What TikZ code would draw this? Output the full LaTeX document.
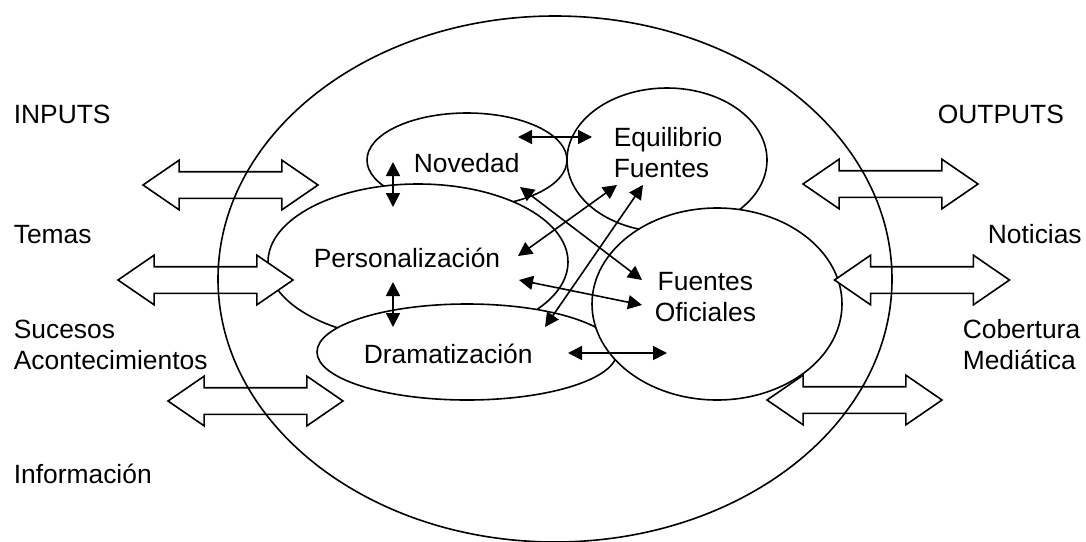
\documentclass[tikz,border=0pt]{standalone}
\usepackage{fontspec}
\setmainfont{Liberation Sans}
\usetikzlibrary{shapes.geometric,shapes.arrows,arrows.meta}

\begin{document}
\begin{tikzpicture}[x=0.5pt,y=-0.5pt, line width=0.8pt,
    font=\fontsize{13.2}{15.3}\selectfont,
    circulo/.style={ellipse, draw, fill=white, inner sep=0pt},
    flecha/.style={double arrow, draw, fill=white, inner sep=0pt,
      text height=12.5pt, text depth=0pt, minimum height=87.5pt,
      double arrow head extend=5.75pt, double arrow tip angle=69},
    rel/.style={{Triangle[length=7pt,width=7pt]}-{Triangle[length=7pt,width=7pt]}},
    texto/.style={inner sep=0pt, anchor=base west, align=left}]

    \useasboundingbox (0,0) rectangle (1086,541);

    % Define ellipses
    \node[circulo, minimum width=100pt, minimum height=47pt] (nov) at (467,160) {};
    \node[circulo, minimum width=100pt, minimum height=72pt] (equ) at (667,160) {};
    \node[circulo, minimum width=150pt, minimum height=78pt] (per) at (418,262) {};
    \node[circulo, minimum width=150pt, minimum height=48pt] (dra) at (467,352) {};
    \node[circulo, minimum width=125pt, minimum height=96pt] (fue) at (717,304) {};

    % Texts
    \node[texto] (novt) at (413,172) {Novedad};
    \node[texto] (equt) at (613,177) {Equilibrio\\Fuentes};
    \node[texto] (pert) at (313,267) {Personalización};
    \node[texto] (drat) at (363,363) {Dramatización};
    \node[texto, align=center] (fuet) at (654,321) {Fuentes\\Oficiales};

    \node[texto] (inputs) at (13,123) {INPUTS};
    \node[texto] (temas) at (13,243) {Temas};
    \node[texto] (sucesos) at (13,369) {Sucesos\\Acontecimientos};
    \node[texto] (info) at (13,483) {Información};
    \node[texto] (outputs) at (937,123) {OUTPUTS};
    \node[texto] (noticias) at (987,243) {Noticias};
    \node[texto] (cobertura) at (962,369) {Cobertura\\Mediática};

    % Arrow ends
    \coordinate (n1) at (393,162);  \coordinate (p1) at (393,207);
    \coordinate (p2) at (393,282);  \coordinate (d1) at (393,327);
    \coordinate (n2) at (518,137);  \coordinate (e1) at (592,137);
    \coordinate (n3) at (520,187);  \coordinate (f1) at (642,280);
    \coordinate (p3) at (518,256);  \coordinate (e2) at (617,185);
    \coordinate (p4) at (519,280);  \coordinate (f2) at (642,305);
    \coordinate (d2) at (545,327);  \coordinate (e3) at (643,185);
    \coordinate (d3) at (568,353);  \coordinate (f3) at (667,353);

    % Draw arrows
    \draw[rel] (n1) -- (p1);
    \draw[rel] (p2) -- (d1);
    \draw[rel] (n2) -- (e1);
    \draw[rel] (n3) -- (f1);
    \draw[rel] (p3) -- (e2);
    \draw[rel] (p4) -- (f2);
    \draw[rel] (d2) -- (e3);
    \draw[rel] (d3) -- (f3);

    % Inputs and outputs
    \node[flecha] (in1) at (230.5,185) {};
    \node[flecha] (in2) at (205.5,280) {};
    \node[flecha] (in3) at (255.5,401) {};
    \node[flecha] (out1) at (890.5,184) {};
    \node[flecha] (out2) at (922,280) {};
    \node[flecha] (out3) at (854.5,400) {};

    \node[ellipse, draw, inner sep=0pt, minimum width=337pt, minimum height=263pt] (sistema) at (555,279) {};
\end{tikzpicture}
\end{document}
